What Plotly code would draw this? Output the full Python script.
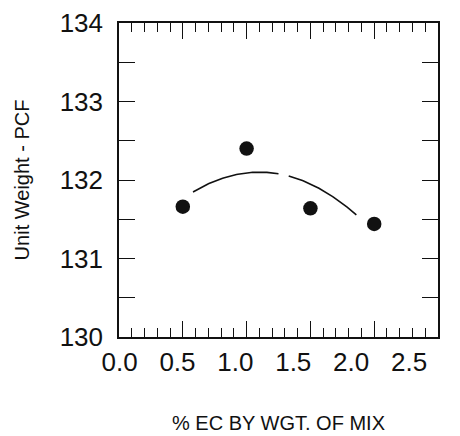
import numpy as np
import plotly.graph_objects as go

# Data
ec_pct = [0.5, 1.0, 1.5, 2.0]
unit_weight = [131.66, 132.40, 131.64, 131.44]
x_tick_vals = [0.0, 0.5, 1.0, 1.5, 2.0, 2.5]
x_tick_text = ["0.0", "0.5", "1.0", "1.5", "2.0", "2.5"]
y_tick_vals = [130, 131, 132, 133, 134]
y_tick_text = ["130", "131", "132", "133", "134"]
curve_segments = [(0.58, 1.25), (1.33, 1.86)]  # visible pieces of the fitted curve

# quadratic trend fitted to the data
coef = np.polyfit(ec_pct, unit_weight, 2)
cx, cy = [], []
for a, b in curve_segments:
    xs = np.linspace(a, b, 60)
    cx += list(xs) + [None]
    cy += list(np.polyval(coef, xs)) + [None]

FONT = "Liberation Sans, Arial, Helvetica, sans-serif"

fig = go.Figure()
fig.add_trace(go.Scatter(x=cx, y=cy, mode="lines",
                         line=dict(color="#111111", width=1.6),
                         hoverinfo="skip", showlegend=False))
fig.add_trace(go.Scatter(x=ec_pct, y=unit_weight, mode="markers",
                         marker=dict(size=14.5, color="#111111"),
                         showlegend=False))
# empty trace carrying the label axis
fig.add_trace(go.Scatter(x=[], y=[], xaxis="x2", showlegend=False))

fig.update_layout(
    width=452, height=428,
    margin=dict(l=111, r=22, t=15, b=99),
    paper_bgcolor="white", plot_bgcolor="white",
    font=dict(family=FONT, color="#111111"),
    xaxis=dict(
        range=[0, 2.5], showgrid=False, zeroline=False, automargin=False,
        showline=True, linecolor="#111111", linewidth=1.5, mirror="allticks",
        ticks="inside", tickvals=x_tick_vals, ticklen=16, tickwidth=1.3,
        tickcolor="#111111", showticklabels=False,
        minor=dict(dtick=0.1, ticks="inside", ticklen=9, tickwidth=1.2,
                   tickcolor="#111111", showgrid=False),
    ),
    xaxis2=dict(
        overlaying="x", anchor="y", side="bottom", automargin=False,
        range=[-0.005, 2.75], showgrid=False, zeroline=False, showline=False,
        ticks="", tickvals=x_tick_vals, ticktext=x_tick_text,
        tickfont=dict(size=26, family=FONT, color="#111111"),
        ticklabelstandoff=7,
        title=dict(text="% EC BY WGT. OF MIX",
                   font=dict(size=20, family=FONT, color="#111111"),
                   standoff=39),
    ),
    yaxis=dict(
        range=[130, 134], showgrid=False, zeroline=False, automargin=False,
        showline=True, linecolor="#111111", linewidth=1.5, mirror="allticks",
        ticks="inside", tickvals=y_tick_vals, ticktext=y_tick_text,
        ticklen=16, tickwidth=1.3, tickcolor="#111111",
        tickfont=dict(size=26, family=FONT, color="#111111"),
        ticklabelstandoff=9,
        minor=dict(dtick=0.5, ticks="inside", ticklen=8, tickwidth=1.2,
                   tickcolor="#111111", showgrid=False),
        title=dict(text="Unit Weight - PCF",
                   font=dict(size=20, family=FONT, color="#111111"),
                   standoff=25),
    ),
)

fig.write_html("out.html")
